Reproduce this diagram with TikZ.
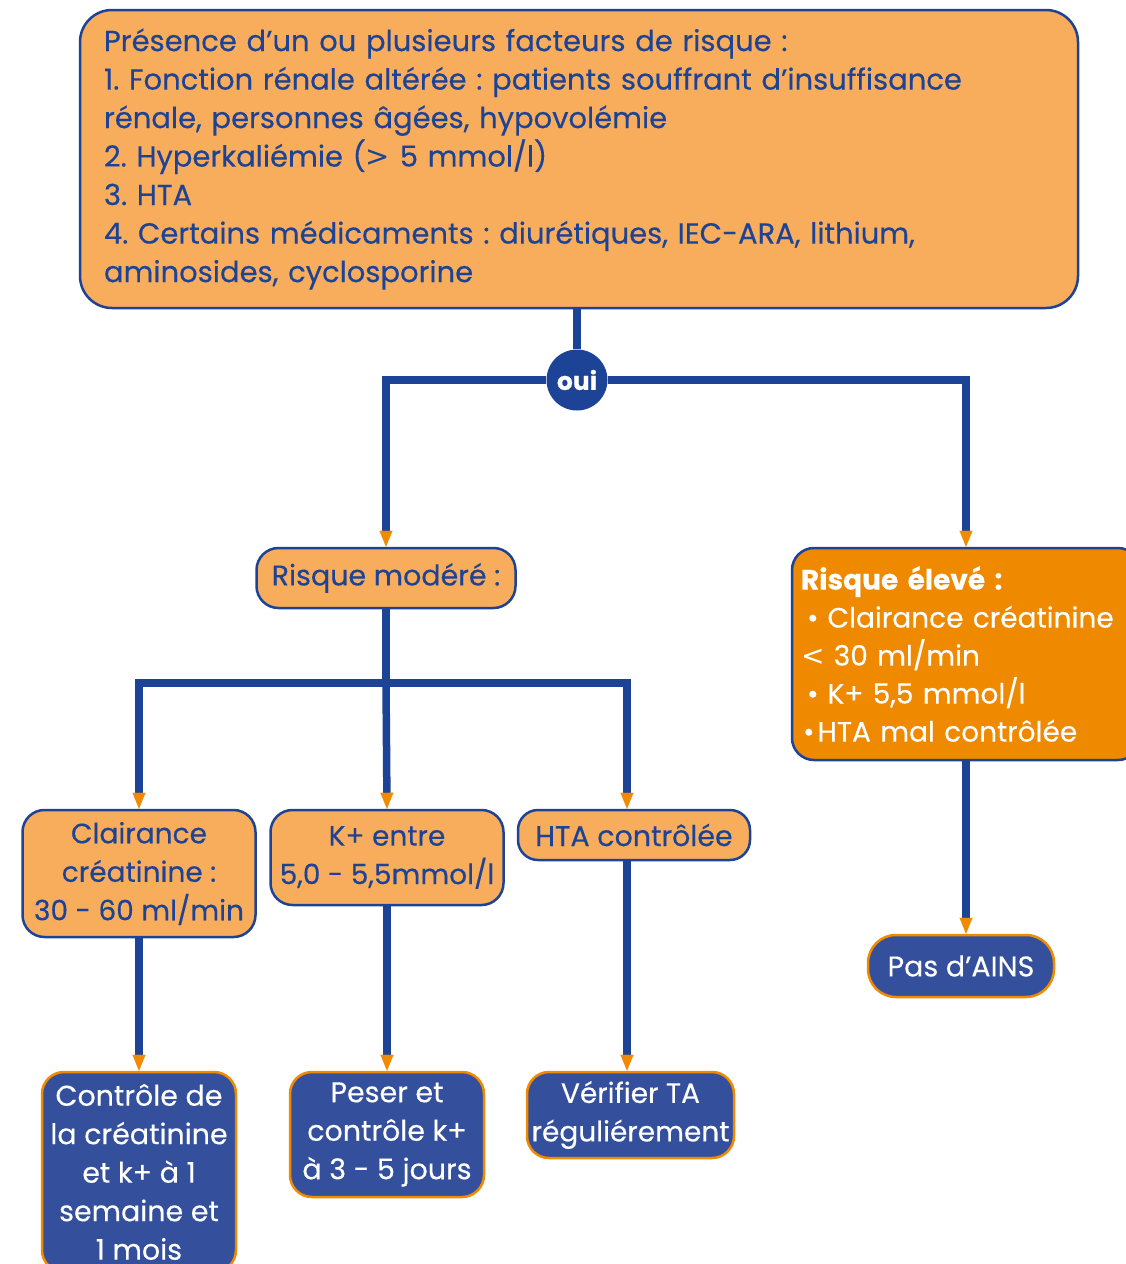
\documentclass[tikz,border=0pt]{standalone}
\usepackage{fontspec}
\setmainfont{Poppins}[FakeBold=0.3]
\newfontfamily\symf{DejaVu Sans}
\usetikzlibrary{arrows.meta}
\definecolor{lor}{HTML}{F7AD5C}
\definecolor{dor}{HTML}{EE8900}
\definecolor{bl}{HTML}{1D4396}
\definecolor{blf}{HTML}{34509D}
\definecolor{tipc}{HTML}{F08A00}
\begin{document}
\frenchspacing
\begin{tikzpicture}[x=1pt,y=-1pt,
  base/.style={line width=2.5pt, rounded corners=22pt, inner sep=0pt, font=\fontsize{28.5}{38.5}\selectfont, align=center},
  lbox/.style={base, draw=bl, fill=lor, text=bl},
  bbox/.style={base, draw=tipc, fill=blf, text=white},
  conn/.style={draw=bl, line width=7.5pt},
  arr/.style={conn, -{Triangle[width=13pt,length=16pt,line width=0.1pt,color=tipc,fill=tipc]}}
]
\useasboundingbox (0,0) rectangle (1126,1264);

\node[lbox, rounded corners=32pt, minimum width=998pt, minimum height=298pt, text width=950pt, align=left, font=\fontsize{29}{38.5}\selectfont] (top) at (579,159)
 {Présence d’un ou plusieurs facteurs de risque :\\
  1. Fonction rénale altérée : patients souffrant d’insuffisance\\
  rénale, personnes âgées, hypovolémie\\
  2. Hyperkaliémie ({\symf >} 5 mmol/l)\\
  3. HTA\\
  4. Certains médicaments : diurétiques, IEC-ARA, lithium,\\
  aminosides, cyclosporine};

\node[circle, fill=bl, text=white, minimum size=61pt, inner sep=0pt, font=\fontsize{25}{30}\selectfont\bfseries] (oui) at (577,380) {oui};

\node[lbox, minimum width=259pt, minimum height=60pt] (modere) at (386,578) {Risque modéré :};

\node[base, draw=bl, fill=dor, text=white, minimum width=348pt, minimum height=212pt, text width=330pt, align=left, font=\fontsize{28}{38}\selectfont] (eleve) at (966,654)
 {\textbf{Risque élevé :}\\
  \hspace*{6pt}•\hspace*{9pt}Clairance créatinine\\
  {\symf <} 30 ml/min\\
  \hspace*{6pt}•\hspace*{9pt}K+ 5,5 mmol/l\\
  \hspace*{2pt}•\hspace*{3pt}HTA mal contrôlée};

\coordinate (split) at (386,683);

\node[lbox, minimum width=233pt, minimum height=127pt, font=\fontsize{28}{38.5}\selectfont] (clair) at (139,873.5) {Clairance\\créatinine :\\30 - 60 ml/min};
\node[lbox, minimum width=233pt, minimum height=95pt, font=\fontsize{28}{38.5}\selectfont] (kplus) at (387,857.5) {K+ entre\\5,0 - 5,5mmol/l};
\node[lbox, minimum width=232pt, minimum height=50pt, rounded corners=20pt] (hta) at (634,835) {HTA contrôlée};

\node[bbox, minimum width=194pt, minimum height=200pt] (ctrl) at (139,1172) {Contrôle de\\la créatinine\\et k+ à 1\\semaine et\\1 mois};
\node[bbox, minimum width=194pt, minimum height=125pt] (peser) at (387,1134.5) {Peser et\\contrôle k+\\à 3 - 5 jours};
\node[bbox, minimum width=207pt, minimum height=86pt, font=\fontsize{28}{38.5}\selectfont] (verif) at (630.5,1115) {Vérifier TA\\réguliérement};
\node[bbox, minimum width=186pt, minimum height=62pt, rounded corners=28pt] (pas) at (961,966) {Pas d’AINS};

\draw[conn] (oui.north |- top.south) -- (oui.north);
\draw[arr] (oui.west) -| (modere.north);
\draw[arr] (oui.east) -| (eleve.north);
\draw[conn] (modere.south) -- (split);
\draw[arr] (split) -| (clair.north);
\draw[arr] (split) -- (kplus.north);
\draw[arr] (split) -| ([xshift=-7pt]hta.north);
\draw[arr] (clair.south) -- (ctrl.north);
\draw[arr] (kplus.south) -- (peser.north);
\draw[arr] ([xshift=-7pt]hta.south) -- ([xshift=-7pt]hta.south |- verif.north);
\draw[arr] (eleve.south) -- (eleve.south |- pas.north);
\end{tikzpicture}
\end{document}
